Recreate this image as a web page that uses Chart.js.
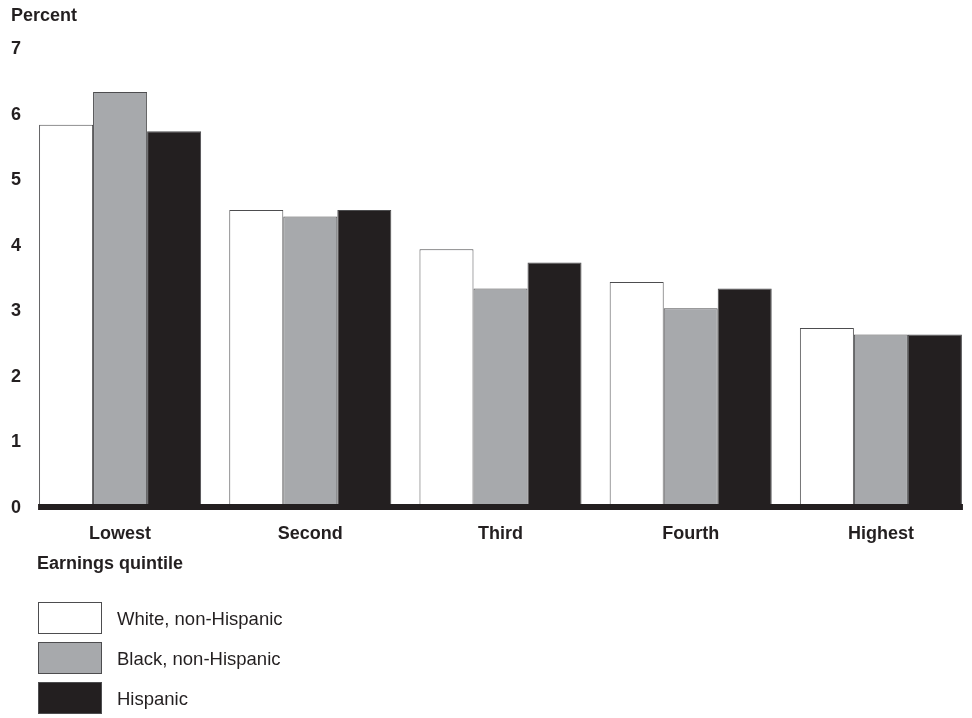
<!DOCTYPE html>
<html lang="en">
<head>
    <meta charset="UTF-8">
    <title>Earnings quintile chart</title>
    <script src="https://cdn.jsdelivr.net/npm/chart.js"></script>
    <style>
        body {
            margin: 0;
            padding: 0;
            overflow: hidden;
            background: #fff;
        }
        #wrap {
            width: 976px;
            height: 718px;
        }
    </style>
</head>
<body>
    <div id="wrap">
        <canvas id="chart" width="976" height="718"></canvas>
    </div>

    <script>
        // Data
        const quintiles = ['Lowest', 'Second', 'Third', 'Fourth', 'Highest'];
        const seriesNames = ['White, non-Hispanic', 'Black, non-Hispanic', 'Hispanic'];
        const whiteValues = [5.8, 4.5, 3.9, 3.4, 2.7];
        const blackValues = [6.3, 4.4, 3.3, 3.0, 2.6];
        const hispanicValues = [5.7, 4.5, 3.7, 3.3, 2.6];
        const yTicks = [0, 1, 2, 3, 4, 5, 6, 7];

        const fills = ['#ffffff', '#a7a9ac', '#231f20'];
        const edge = '#4d4d4f';
        const ink = '#231f20';
        const boldFont = 'bold 18px "Liberation Sans", Arial, sans-serif';
        const plainFont = '18.5px "Liberation Sans", Arial, sans-serif';

        // Thick baseline under the bars, plus titles and legend
        const decorations = {
            id: 'decorations',
            afterDatasetsDraw(chart) {
                const ctx = chart.ctx;
                const y0 = chart.scales.y.getPixelForValue(0);
                const first = chart.getDatasetMeta(0).data[0];
                const lastMeta = chart.getDatasetMeta(chart.data.datasets.length - 1);
                const last = lastMeta.data[lastMeta.data.length - 1];
                ctx.save();
                ctx.fillStyle = ink;
                ctx.fillRect(first.x - first.width / 2 - 1, y0 - 1, (last.x + last.width / 2) - (first.x - first.width / 2) + 2, 6);

                ctx.font = boldFont;
                ctx.textBaseline = 'alphabetic';
                ctx.fillText('Percent', 11, 21);
                ctx.fillText('Earnings quintile', 37, 569);

                // legend
                chart.data.datasets.forEach((ds, i) => {
                    const top = 602 + i * 40;
                    ctx.fillStyle = ds.backgroundColor;
                    ctx.fillRect(38, top, 64, 32);
                    ctx.strokeStyle = edge;
                    ctx.lineWidth = 1;
                    ctx.strokeRect(38.5, top + 0.5, 63, 31);
                    ctx.fillStyle = ink;
                    ctx.font = plainFont;
                    ctx.fillText(ds.label, 117, top + 23);
                });
                ctx.restore();
            }
        };

        const makeSet = (label, values, i) => ({
            label: label,
            data: values,
            backgroundColor: fills[i],
            borderColor: edge,
            borderWidth: 1,
            borderSkipped: 'start',
            barPercentage: 1.0,
            categoryPercentage: 0.852
        });

        new Chart(document.getElementById('chart'), {
            type: 'bar',
            data: {
                labels: quintiles,
                datasets: [
                    makeSet(seriesNames[0], whiteValues, 0),
                    makeSet(seriesNames[1], blackValues, 1),
                    makeSet(seriesNames[2], hispanicValues, 2)
                ]
            },
            options: {
                responsive: false,
                animation: false,
                layout: {
                    padding: { top: 46, bottom: 173, left: 0, right: 0 }
                },
                plugins: {
                    legend: { display: false },
                    tooltip: { enabled: false }
                },
                scales: {
                    x: {
                        grid: { display: false, drawTicks: false },
                        border: { display: false },
                        ticks: {
                            color: ink,
                            font: { family: '"Liberation Sans", Arial, sans-serif', size: 18, weight: 'bold' },
                            padding: 18,
                            maxRotation: 0
                        },
                        afterFit(scale) { scale.height = 40; }
                    },
                    y: {
                        min: 0,
                        max: 7,
                        grid: { display: false, drawTicks: false },
                        border: { display: false },
                        afterBuildTicks(scale) {
                            scale.ticks = yTicks.map(v => ({ value: v }));
                        },
                        ticks: {
                            color: ink,
                            font: { family: '"Liberation Sans", Arial, sans-serif', size: 18, weight: 'bold' },
                            padding: 4,
                            labelOffset: 3
                        },
                        afterFit(scale) { scale.width = 25; }
                    }
                }
            },
            plugins: [decorations]
        });
    </script>
</body>
</html>
